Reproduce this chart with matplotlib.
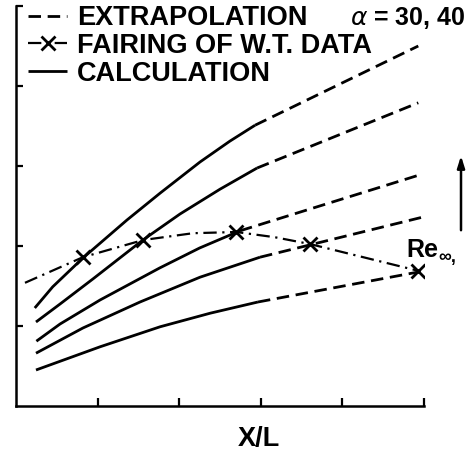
import matplotlib
matplotlib.use('Agg')
import matplotlib.pyplot as plt

plt.rcParams['font.family'] = ['Liberation Sans', 'DejaVu Sans']

# calculated curves (solid part), one per Reynolds number, lowest to highest
calc_x = [
    [0.245, 1.03, 1.765, 2.38, 2.965],
    [0.245, 0.82, 1.52, 2.255, 2.99],
    [0.25, 0.54, 1.03, 1.76, 2.25, 2.745],
    [0.245, 0.54, 0.945, 1.555, 2.01, 2.50, 2.955],
    [0.23, 0.45, 0.82, 1.36, 1.765, 2.255, 2.62, 2.93],
]
calc_y = [
    [0.45, 0.74, 0.99, 1.16, 1.30],
    [0.66, 0.975, 1.30, 1.61, 1.86],
    [0.81, 1.025, 1.325, 1.725, 1.975, 2.19],
    [1.05, 1.275, 1.59, 2.075, 2.40, 2.71, 2.975],
    [1.225, 1.49, 1.85, 2.325, 2.66, 3.05, 3.31, 3.51],
]
# extrapolated part (dashed)
extra_x = [
    [2.965, 4.93],
    [2.99, 4.98],
    [2.745, 4.95],
    [2.955, 4.93],
    [2.93, 4.93],
]
extra_y = [
    [1.30, 1.675],
    [1.86, 2.36],
    [2.19, 2.89],
    [2.975, 3.79],
    [3.51, 4.50],
]
# fairing of wind tunnel data
fair_x = [0.11, 0.82, 1.56, 2.17, 2.70, 3.17, 3.60, 4.93]
fair_y = [1.54, 1.86, 2.075, 2.16, 2.175, 2.11, 2.025, 1.69]
fair_marks = [1, 2, 4, 6, 7]

dash = (0, (4.5, 2.4))
dashdot = (0, (6, 2.5, 1, 2.5))
lw = 2.0

fig = plt.figure(figsize=(4.71, 4.55), dpi=100)
ax = fig.add_axes([16/471, 1 - 406/455, 408/471, 400/455])

for cx, cy in zip(calc_x, calc_y):
    h_calc, = ax.plot(cx, cy, color='black', lw=lw, solid_capstyle='butt',
                      solid_joinstyle='round')
for ex, ey in zip(extra_x, extra_y):
    h_ext, = ax.plot(ex, ey, color='black', lw=lw, linestyle=dash)
h_fair, = ax.plot(fair_x, fair_y, color='black', lw=1.6, linestyle=dashdot,
                  marker='x', markevery=fair_marks, markersize=10, mew=2.0)

ax.set_xlim(0, 5)
ax.set_ylim(0, 5)
ax.set_xticks([1, 2, 3, 4, 5])
ax.set_yticks([1, 2, 3, 4, 5])
ax.tick_params(direction='in', labelbottom=False, labelleft=False, width=1.6, color='black')
ax.tick_params(axis='x', length=6)
ax.tick_params(axis='y', length=5)
for s in ['top', 'right']:
    ax.spines[s].set_visible(False)
for s in ['left', 'bottom']:
    ax.spines[s].set_linewidth(1.8)

ax.set_xlabel('X/L', fontsize=19.5, fontweight='bold')
ax.xaxis.set_label_coords(0.596, -0.05)

ax.legend([h_ext, h_fair, h_calc],
          ['EXTRAPOLATION', 'FAIRING OF W.T. DATA', 'CALCULATION'],
          loc='upper left', bbox_to_anchor=(28/471, 1 - 5/455),
          bbox_transform=fig.transFigure, frameon=False, borderpad=0,
          borderaxespad=0, handlelength=1.45, handletextpad=0.37,
          labelspacing=0.07, prop={'size': 19.5, 'weight': 'bold'})

fig.text(350/471, 1 - 25/455, r'$\alpha$ = 30, 40', fontsize=18,
         fontweight='bold', va='baseline')

ax.annotate('', xy=(1.0907, 0.6325), xytext=(1.0907, 0.4325),
            xycoords='axes fraction', annotation_clip=False,
            arrowprops=dict(arrowstyle='-|>,head_length=0.7,head_width=0.22',
                            color='black', lw=1.8))
ax.text(0.958, 0.3725, 'Re', transform=ax.transAxes, fontsize=18,
        fontweight='bold', va='baseline', clip_on=False)
ax.text(1.036, 0.36, '\u221e,', transform=ax.transAxes, fontsize=13,
        fontweight='bold', va='baseline', clip_on=False)

fig.savefig('out.png', dpi=100)
